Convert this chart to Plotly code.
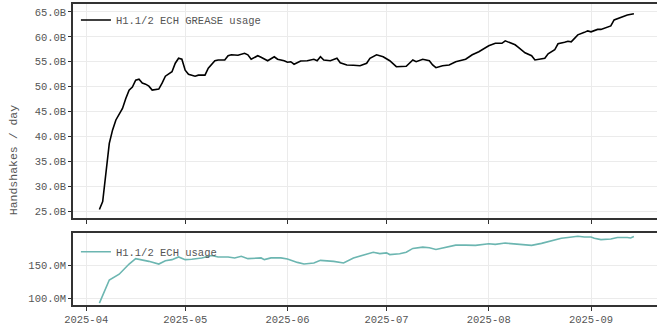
import plotly.graph_objects as go
from plotly.subplots import make_subplots

# Daily handshakes carrying an ECH GREASE extension (billions)
grease_dates = [
    "2025-04-05", "2025-04-06", "2025-04-08", "2025-04-09", "2025-04-10", "2025-04-12",
    "2025-04-13", "2025-04-14", "2025-04-15", "2025-04-16", "2025-04-17", "2025-04-18",
    "2025-04-19", "2025-04-20", "2025-04-21", "2025-04-23", "2025-04-24", "2025-04-25",
    "2025-04-27", "2025-04-28", "2025-04-29", "2025-04-30", "2025-05-01", "2025-05-02",
    "2025-05-04", "2025-05-05", "2025-05-07", "2025-05-08", "2025-05-10", "2025-05-11",
    "2025-05-13", "2025-05-14", "2025-05-15", "2025-05-17", "2025-05-19", "2025-05-20",
    "2025-05-21", "2025-05-23", "2025-05-24", "2025-05-26", "2025-05-28", "2025-05-29",
    "2025-05-31", "2025-06-01", "2025-06-02", "2025-06-03", "2025-06-05", "2025-06-07",
    "2025-06-09", "2025-06-10", "2025-06-11", "2025-06-12", "2025-06-14", "2025-06-16",
    "2025-06-17", "2025-06-19", "2025-06-21", "2025-06-23", "2025-06-25", "2025-06-26",
    "2025-06-28", "2025-06-30", "2025-07-02", "2025-07-04", "2025-07-07", "2025-07-09",
    "2025-07-10", "2025-07-12", "2025-07-14", "2025-07-15", "2025-07-16", "2025-07-18",
    "2025-07-20", "2025-07-22", "2025-07-25", "2025-07-27", "2025-07-29", "2025-08-01",
    "2025-08-03", "2025-08-05", "2025-08-06", "2025-08-08", "2025-08-09", "2025-08-10",
    "2025-08-12", "2025-08-14", "2025-08-15", "2025-08-18", "2025-08-19", "2025-08-21",
    "2025-08-22", "2025-08-24", "2025-08-25", "2025-08-26", "2025-08-28", "2025-08-30",
    "2025-08-31", "2025-09-01", "2025-09-03", "2025-09-04", "2025-09-06", "2025-09-07",
    "2025-09-08", "2025-09-10", "2025-09-12", "2025-09-14",
]
grease_values = [
    25.3, 26.9, 38.6, 41.3, 43.3, 45.6,
    47.6, 49.3, 49.9, 51.3, 51.5, 50.7,
    50.5, 50.1, 49.3, 49.5, 50.7, 52.1,
    53.0, 54.7, 55.7, 55.5, 53.3, 52.5,
    52.1, 52.3, 52.3, 53.7, 55.2, 55.35,
    55.35, 56.2, 56.4, 56.3, 56.7, 56.4,
    55.5, 56.2, 55.9, 55.2, 56.0, 55.5,
    55.2, 54.9, 55.0, 54.5, 55.15, 55.2,
    55.5, 55.2, 56.0, 55.35, 55.2, 55.7,
    54.8, 54.35, 54.3, 54.2, 54.7, 55.7,
    56.4, 56.0, 55.2, 54.0, 54.1, 55.35,
    55.0, 55.5, 55.2, 54.35, 53.8, 54.2,
    54.35, 55.0, 55.5, 56.4, 57.0, 58.2,
    58.7, 58.7, 59.2, 58.6, 58.4, 57.9,
    56.8, 56.2, 55.35, 55.7, 56.6, 57.4,
    58.6, 58.9, 59.1, 59.0, 60.4, 60.9,
    61.2, 61.0, 61.5, 61.5, 62.0, 62.2,
    63.4, 63.9, 64.4, 64.65,
]

# Daily handshakes with a real ECH extension (millions)
ech_dates = [
    "2025-04-05", "2025-04-08", "2025-04-11", "2025-04-14", "2025-04-16", "2025-04-18",
    "2025-04-20", "2025-04-23", "2025-04-25", "2025-04-27", "2025-04-29", "2025-05-01",
    "2025-05-03", "2025-05-06", "2025-05-09", "2025-05-11", "2025-05-14", "2025-05-16",
    "2025-05-18", "2025-05-20", "2025-05-22", "2025-05-24", "2025-05-25", "2025-05-27",
    "2025-05-30", "2025-06-01", "2025-06-04", "2025-06-06", "2025-06-09", "2025-06-11",
    "2025-06-15", "2025-06-18", "2025-06-21", "2025-06-25", "2025-06-27", "2025-06-29",
    "2025-07-01", "2025-07-02", "2025-07-05", "2025-07-07", "2025-07-09", "2025-07-12",
    "2025-07-14", "2025-07-16", "2025-07-19", "2025-07-22", "2025-07-25", "2025-07-28",
    "2025-08-01", "2025-08-03", "2025-08-06", "2025-08-10", "2025-08-14", "2025-08-17",
    "2025-08-20", "2025-08-23", "2025-08-25", "2025-08-28", "2025-08-30", "2025-09-01",
    "2025-09-02", "2025-09-04", "2025-09-07", "2025-09-09", "2025-09-12", "2025-09-13",
    "2025-09-14",
]
ech_values = [
    92.3, 127.3, 136.1, 151.5, 159.7, 158.2,
    155.6, 151.5, 156.6, 158.2, 162.3, 158.2,
    158.7, 160.8, 164.4, 162.3, 162.3, 160.8,
    163.3, 159.7, 160.8, 160.8, 158.2, 160.8,
    160.8, 159.3, 154.0, 151.5, 153.1, 157.1,
    155.6, 153.1, 160.8, 167.0, 169.4, 167.4,
    168.5, 165.9, 167.0, 169.4, 175.2, 177.2,
    176.2, 173.6, 177.2, 180.2, 180.2, 179.8,
    182.4, 181.3, 183.3, 181.3, 179.8, 182.9,
    186.4, 190.6, 191.7, 193.7, 192.6, 192.6,
    190.6, 188.6, 189.5, 191.7, 191.7, 191.1,
    193.2,
]

grease_ticks = [25, 30, 35, 40, 45, 50, 55, 60, 65]
grease_labels = ["25.0B", "30.0B", "35.0B", "40.0B", "45.0B",
                 "50.0B", "55.0B", "60.0B", "65.0B"]
ech_ticks = [100, 150]
ech_labels = ["100.0M", "150.0M"]

FONT = "Liberation Mono"
TEXT = "#555555"
AXIS = "#333333"
GRID = "#ebebeb"

fig = make_subplots(rows=2, cols=1, shared_xaxes=False, vertical_spacing=0.05,
                    row_heights=[0.74, 0.26])

fig.add_trace(go.Scatter(x=grease_dates, y=grease_values, mode="lines",
                         name="H1.1/2 ECH GREASE usage", showlegend=True,
                         line=dict(color="#000000", width=1.6),
                         legend="legend"), row=1, col=1)
fig.add_trace(go.Scatter(x=ech_dates, y=ech_values, mode="lines",
                         name="H1.1/2 ECH usage", showlegend=True,
                         line=dict(color="#6cb6b1", width=1.6),
                         legend="legend2"), row=2, col=1)

xrange = ["2025-03-28", "2025-09-21"]
common_x = dict(type="date", range=xrange, dtick="M1", tickformat="%Y-%m",
                tick0="2025-04-01",
                showgrid=True, gridcolor=GRID, gridwidth=1,
                showline=True, linecolor=AXIS, linewidth=1.5, mirror=True,
                ticks="outside", ticklen=4, tickcolor=AXIS, tickwidth=1,
                tickfont=dict(family=FONT, size=10.5, color=TEXT), zeroline=False)
common_y = dict(showgrid=True, gridcolor=GRID, gridwidth=1,
                showline=True, linecolor=AXIS, linewidth=1.5, mirror=False,
                ticks="outside", ticklen=3, tickcolor=AXIS, tickwidth=1,
                tickfont=dict(family=FONT, size=10.5, color=TEXT), zeroline=False)

fig.update_xaxes(**common_x, showticklabels=False, row=1, col=1)
fig.update_xaxes(**common_x, showticklabels=True, row=2, col=1)
fig.update_yaxes(**common_y, range=[23.6, 66.6], tickmode="array",
                 tickvals=grease_ticks, ticktext=grease_labels, row=1, col=1)
fig.update_yaxes(**common_y, range=[89.4, 198.5], tickmode="array",
                 tickvals=ech_ticks, ticktext=ech_labels, row=2, col=1)

fig.update_layout(
    width=657, height=327,
    margin=dict(l=73, r=0, t=4, b=22),
    paper_bgcolor="white", plot_bgcolor="white",
    showlegend=True,
    font=dict(family=FONT, size=10.5, color=TEXT),
    legend=dict(x=0.005, y=0.995, xanchor="left", yanchor="top",
                bgcolor="rgba(0,0,0,0)", font=dict(family=FONT, size=10.5, color=TEXT),
                itemwidth=30),
    legend2=dict(x=0.005, y=0.225, xanchor="left", yanchor="top",
                 bgcolor="rgba(0,0,0,0)", font=dict(family=FONT, size=10.5, color=TEXT),
                 itemwidth=30),
    annotations=[dict(text="Handshakes / day", xref="paper", yref="paper",
                      x=-0.115, y=0.482, textangle=-90, showarrow=False,
                      font=dict(family=FONT, size=11.5, color=TEXT))],
)
fig.update_yaxes(domain=[0.289, 1.0], row=1, col=1)
fig.update_yaxes(domain=[0.0, 0.239], row=2, col=1)

fig.write_html("out.html")
